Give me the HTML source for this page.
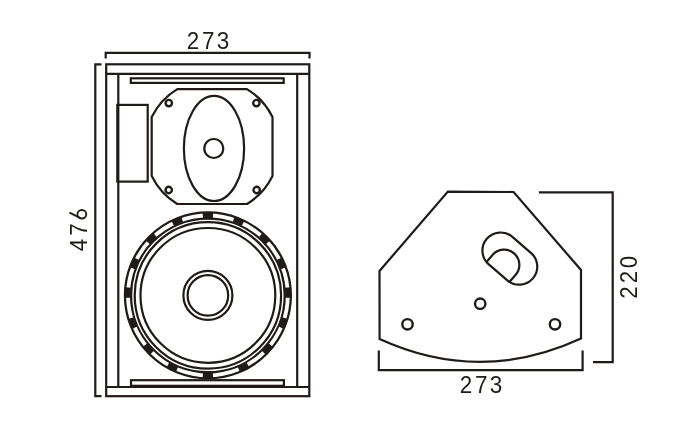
<!DOCTYPE html>
<html><head><meta charset="utf-8">
<style>
html,body{margin:0;padding:0;background:#fff;width:700px;height:435px;overflow:hidden}
svg{display:block}
text{font-family:"Liberation Sans",sans-serif;fill:#1f1b18}
svg{will-change:transform}
</style></head><body>
<svg width="700" height="435" viewBox="0 0 700 435">
<g fill="none" stroke="#1f1b18" stroke-width="2.2" stroke-linejoin="miter" stroke-linecap="butt">
  <!-- top dim -->
  <path d="M105.7,58.6 V52.9 H309.5 V58.6"/>
  <!-- left dim -->
  <path d="M101.5,64.3 H95.3 V396.1 H101.5"/>
  <!-- outer box -->
  <rect x="106.2" y="64.3" width="203.1" height="331.9"/>
  <path d="M106.2,73.9 H309.3 M106.2,387 H309.3 M118.3,73.9 V387 M297.2,73.9 V387"/>
  <!-- rails -->
  <rect x="130.8" y="78.3" width="152.9" height="4.6"/>
  <rect x="131" y="380.2" width="152.9" height="5.6"/>
  <!-- block -->
  <rect x="117.3" y="104.9" width="30.4" height="76.7"/>
  <!-- horn -->
  <path d="M177.3,89.1 H246.9 A67.2,67.2 0 0 1 272.5,117.1 V176.1 A67.2,67.2 0 0 1 247.05,204 H177.15 A67.2,67.2 0 0 1 151.7,176.1 V117.1 A67.2,67.2 0 0 1 177.3,89.1 Z"/>
  <circle cx="168.8" cy="103.1" r="3.2" stroke-width="2.4"/>
  <circle cx="256.4" cy="103.1" r="3.2" stroke-width="2.4"/>
  <circle cx="168.7" cy="190" r="3.2" stroke-width="2.4"/>
  <circle cx="256.7" cy="190" r="3.2" stroke-width="2.4"/>
  <ellipse cx="214" cy="148.4" rx="30.1" ry="52.6"/>
  <circle cx="213.8" cy="148.5" r="9.5"/>
  <!-- woofer -->
  <circle cx="207.9" cy="295.4" r="79.9" stroke-width="8.4"/>
  <circle cx="207.9" cy="295.4" r="73.2"/>
  <circle cx="207.9" cy="295.4" r="67.4"/>
  <circle cx="207.9" cy="295.4" r="24.5"/>
  <circle cx="207.9" cy="295.4" r="20.3"/>
  <!-- side view -->
  <path d="M447.9,191.6 L513.6,192 L581,270 L581,338.5 Q480.3,385 379.6,339 L379.5,271 Z"/>
  <circle cx="407.5" cy="324.3" r="5.2" stroke-width="2.4"/>
  <circle cx="555" cy="324.3" r="5.2" stroke-width="2.4"/>
  <circle cx="480.2" cy="303.7" r="5.2" stroke-width="2.4"/>
  <path d="M512.09,236.67 L531.19,253.07 A18.1,18.1 0 0 1 507.61,280.53 L488.51,264.13 A18.1,18.1 0 0 1 512.09,236.67 Z"/>
  <path d="M486.28,262.21 L492.54,254.93 A15.25,15.25 0 0 1 515.68,274.81 L509.42,282.09"/>
  <!-- side dims -->
  <path d="M378.8,350.5 V370.1 H582.6 V350.5"/>
  <path d="M538.9,192.3 H612.7 V362.1 H593"/>
</g>
<!-- woofer slots -->
<circle cx="207.9" cy="295.4" r="79.9" fill="none" stroke="#fff" stroke-width="3.8"/>
<path fill="none" stroke="#1f1b18" stroke-width="5.2" d="M177.14,369.14 A79.9,79.9 0 0 1 168.00,364.63 M152.05,352.54 A79.9,79.9 0 0 1 145.23,344.97 M134.77,327.59 A79.9,79.9 0 0 1 131.27,318.02 M128.03,297.71 A79.9,79.9 0 0 1 128.39,287.52 M132.74,268.28 A79.9,79.9 0 0 1 136.81,258.93 M148.01,242.52 A79.9,79.9 0 0 1 155.23,235.32 M172.87,223.59 A79.9,79.9 0 0 1 182.29,219.71 M202.80,215.66 A79.9,79.9 0 0 1 213.00,215.66 M233.51,219.71 A79.9,79.9 0 0 1 242.93,223.59 M260.57,235.32 A79.9,79.9 0 0 1 267.79,242.52 M278.99,258.93 A79.9,79.9 0 0 1 283.06,268.28 M287.41,287.52 A79.9,79.9 0 0 1 287.77,297.71 M284.53,318.02 A79.9,79.9 0 0 1 281.03,327.59 M270.57,344.97 A79.9,79.9 0 0 1 263.75,352.54 M247.80,364.63 A79.9,79.9 0 0 1 238.66,369.14 M213.00,375.14 A79.9,79.9 0 0 1 202.80,375.14"/>
<g>
<text transform="translate(192.9,49) scale(0.92,1)" font-size="24.4" text-anchor="middle">2</text>
<text transform="translate(208.3,49) scale(0.92,1)" font-size="24.4" text-anchor="middle">7</text>
<text transform="translate(223,49) scale(0.92,1)" font-size="24.4" text-anchor="middle">3</text>
<text transform="translate(465.9,393) scale(0.92,1)" font-size="24.4" text-anchor="middle">2</text>
<text transform="translate(481.3,393) scale(0.92,1)" font-size="24.4" text-anchor="middle">7</text>
<text transform="translate(496.1,393) scale(0.92,1)" font-size="24.4" text-anchor="middle">3</text>
<text transform="translate(87.3,244.95) rotate(-90) scale(0.92,1)" font-size="24.4" text-anchor="middle">4</text>
<text transform="translate(87.3,229.5) rotate(-90) scale(0.92,1)" font-size="24.4" text-anchor="middle">7</text>
<g fill="none" stroke="#1f1b18" stroke-width="1.85"><ellipse cx="81.85" cy="214.25" rx="4.45" ry="4.25"/><path d="M70.1,212.9 L79.9,217.9" stroke-linecap="round"/></g>
<text transform="translate(636.7,292.4) rotate(-90) scale(0.92,1)" font-size="24.4" text-anchor="middle">2</text>
<text transform="translate(636.7,277) rotate(-90) scale(0.92,1)" font-size="24.4" text-anchor="middle">2</text>
<text transform="translate(636.7,262) rotate(-90) scale(0.92,1)" font-size="24.4" text-anchor="middle">0</text>
</g>
</svg>
</body></html>
